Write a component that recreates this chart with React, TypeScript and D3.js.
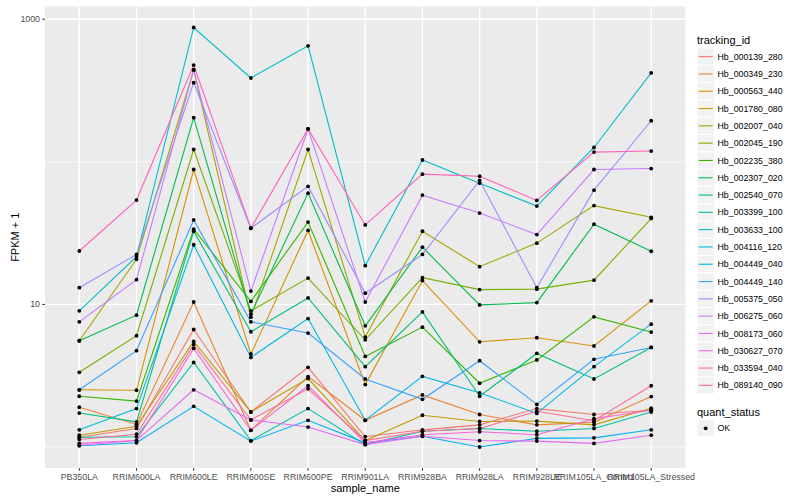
import React from 'react';
import * as d3 from 'd3';

// sample order along the x axis
const samples = [
  'PB350LA', 'RRIM600LA', 'RRIM600LE', 'RRIM600SE', 'RRIM600PE', 'RRIM901LA',
  'RRIM928BA', 'RRIM928LA', 'RRIM928LE', 'RRIM105LA_Control', 'RRIM105LA_Stressed',
];

const trackingIds = [
  'Hb_000139_280', 'Hb_000349_230', 'Hb_000563_440', 'Hb_001780_080', 'Hb_002007_040',
  'Hb_002045_190', 'Hb_002235_380', 'Hb_002307_020', 'Hb_002540_070', 'Hb_003399_100',
  'Hb_003633_100', 'Hb_004116_120', 'Hb_004449_040', 'Hb_004449_140', 'Hb_005375_050',
  'Hb_006275_060', 'Hb_008173_060', 'Hb_030627_070', 'Hb_033594_040', 'Hb_089140_090',
];

// ggplot default hue palette for 20 groups
const hueColors = [
  '#F8766D', '#EA8331', '#D89000', '#C09B00', '#A3A500', '#7CAE00', '#39B600', '#00BB4E',
  '#00BF7D', '#00C1A3', '#00BFC4', '#00BAE0', '#00B0F6', '#35A2FF', '#9590FF', '#C77CFF',
  '#E76BF3', '#FA62DB', '#FF62BC', '#FF6C91',
];

// FPKM + 1, one value per sample
const hb000139_280 = [1.17, 1.35, 6.67, 1.76, 3.62, 1.18, 1.32, 1.43, 1.86, 1.69, 1.81];
const hb000349_230 = [1.9, 1.44, 10.4, 1.31, 3.12, 1.54, 2.32, 1.69, 1.43, 1.49, 2.26];
const hb000563_440 = [2.52, 2.5, 88.3, 4.49, 33.0, 2.74, 14.7, 5.47, 5.84, 5.11, 10.6];
const hb001780_080 = [1.21, 1.4, 5.5, 1.76, 3.02, 1.11, 1.67, 1.51, 1.52, 1.43, 1.87];
const hb002007_040 = [5.56, 20.7, 441, 8.14, 122, 5.9, 32.6, 18.4, 26.9, 49.3, 40.8];
const hb002045_190 = [3.34, 6.03, 122, 9.01, 15.3, 5.65, 15.4, 12.7, 12.8, 14.8, 40.0];
const hb002235_380 = [2.27, 2.1, 33.7, 10.5, 37.8, 4.32, 6.93, 2.8, 4.08, 8.18, 6.4];
const hb002307_020 = [5.56, 8.41, 204, 8.54, 60.3, 7.08, 25.2, 9.92, 10.3, 36.5, 23.6];
const hb002540_070 = [1.73, 1.5, 32.6, 6.43, 11.1, 3.66, 8.86, 2.27, 4.53, 3.0, 4.99];
const hb003399_100 = [1.17, 1.18, 3.92, 1.11, 1.86, 1.04, 1.29, 1.35, 1.29, 1.35, 1.76];
const hb003633_100 = [9.01, 21.6, 875, 387, 651, 18.7, 103, 70.8, 48.9, 126, 420];
const hb004116_120 = [1.32, 1.86, 26.2, 4.25, 7.96, 1.54, 3.13, 2.4, 1.72, 3.66, 7.27];
const hb004449_040 = [1.02, 1.07, 1.93, 1.1, 1.54, 1.07, 1.19, 1.0, 1.15, 1.16, 1.32];
const hb004449_140 = [2.52, 4.74, 39.1, 7.55, 6.3, 3.0, 2.16, 4.03, 1.99, 4.12, 4.99];
const hb005375_050 = [13.1, 22.4, 359, 34.2, 67.2, 12.0, 22.4, 74.0, 13.1, 63.3, 194];
const hb006275_060 = [7.55, 14.9, 441, 12.4, 170, 10.4, 58.4, 43.7, 30.9, 88.3, 89.7];
const hb008173_060 = [1.03, 1.11, 2.52, 1.55, 1.38, 1.04, 1.19, 1.11, 1.1, 1.06, 1.21];
const hb030627_070 = [1.06, 1.11, 4.91, 1.31, 2.69, 1.07, 1.22, 1.28, 1.22, 1.58, 1.81];
const hb033594_040 = [23.7, 53.9, 477, 34.2, 170, 36.1, 81.9, 79.3, 53.6, 117, 119];
const hb089140_090 = [1.13, 1.23, 5.22, 1.55, 2.56, 1.11, 1.29, 1.35, 1.78, 1.53, 2.69];

const seriesValues = [
  hb000139_280, hb000349_230, hb000563_440, hb001780_080, hb002007_040,
  hb002045_190, hb002235_380, hb002307_020, hb002540_070, hb003399_100,
  hb003633_100, hb004116_120, hb004449_040, hb004449_140, hb005375_050,
  hb006275_060, hb008173_060, hb030627_070, hb033594_040, hb089140_090,
];

const yTicks = [10, 1000];
const yMinor = [1, 100];

const W = 800;
const H = 500;
const panel = { left: 45, right: 685.5, top: 6.5, bottom: 468 };
const FONT = '"Liberation Sans", Arial, Helvetica, sans-serif';

function App() {
  const x = d3.scalePoint<string>().domain(samples).range([panel.left, panel.right]).padding(0.6);

  const all = seriesValues.flat();
  const lo = Math.log10(d3.min(all) as number);
  const hi = Math.log10(d3.max(all) as number);
  const pad = (hi - lo) * 0.05;
  const y = d3.scaleLog()
    .domain([Math.pow(10, lo - pad), Math.pow(10, hi + pad)])
    .range([panel.bottom, panel.top]);

  const line = d3.line<number>()
    .x((_, i) => x(samples[i]) as number)
    .y((d) => y(d));

  const legendX = 697;
  const keyTop = 48;
  const keyStep = 17.3;

  return (
    <svg width={W} height={H} style={{ display: 'block', position: 'absolute', left: 0, top: 0 }}
      fontFamily={FONT}>
      <rect x={0} y={0} width={W} height={H} fill="#ffffff" />
      <rect x={panel.left} y={panel.top} width={panel.right - panel.left}
        height={panel.bottom - panel.top} fill="#EBEBEB" />
      {yMinor.map((t) => (
        <line key={'mn' + t} x1={panel.left} x2={panel.right} y1={y(t)} y2={y(t)}
          stroke="#fff" strokeWidth={0.7} />
      ))}
      {yTicks.map((t) => (
        <line key={'mj' + t} x1={panel.left} x2={panel.right} y1={y(t)} y2={y(t)}
          stroke="#fff" strokeWidth={1.4} />
      ))}
      {samples.map((s) => (
        <line key={'vx' + s} x1={x(s)} x2={x(s)} y1={panel.top} y2={panel.bottom}
          stroke="#fff" strokeWidth={1.4} />
      ))}

      {seriesValues.map((vals, i) => (
        <path key={'l' + i} d={line(vals) as string} fill="none" stroke={hueColors[i]}
          strokeWidth={1.1} />
      ))}
      {seriesValues.map((vals, i) =>
        vals.map((v, j) => (
          <circle key={'p' + i + '-' + j} cx={x(samples[j])} cy={y(v)} r={1.9} fill="#000" />
        ))
      )}

      {/* y axis */}
      {yTicks.map((t) => (
        <g key={'yt' + t}>
          <line x1={panel.left - 2.75} x2={panel.left} y1={y(t)} y2={y(t)} stroke="#333" strokeWidth={1} />
          <text x={panel.left - 5} y={y(t)} dy="0.35em" textAnchor="end" fontSize={8.8} fill="#4D4D4D">
            {t}
          </text>
        </g>
      ))}
      <text transform={`translate(15,${(panel.top + panel.bottom) / 2}) rotate(-90)`} textAnchor="middle"
        fontSize={11} fill="#000" dy="0.35em">
        FPKM + 1
      </text>

      {/* x axis */}
      {samples.map((s) => (
        <g key={'xt' + s}>
          <line x1={x(s)} x2={x(s)} y1={panel.bottom} y2={panel.bottom + 2.75} stroke="#333" strokeWidth={1} />
          <text x={x(s)} y={panel.bottom + 11.5} textAnchor="middle" fontSize={8.8} fill="#4D4D4D">
            {s}
          </text>
        </g>
      ))}
      <text x={(panel.left + panel.right) / 2} y={492} textAnchor="middle" fontSize={11} fill="#000">
        sample_name
      </text>

      {/* legend: tracking_id */}
      <text x={legendX} y={44} fontSize={11} fill="#000">tracking_id</text>
      {trackingIds.map((id, i) => {
        const cy = keyTop + i * keyStep + keyStep / 2;
        return (
          <g key={'lg' + id}>
            <rect x={legendX} y={cy - keyStep / 2} width={17.3} height={keyStep} fill="#F2F2F2"
              stroke="#fff" strokeWidth={1} />
            <line x1={legendX + 1.7} x2={legendX + 15.6} y1={cy} y2={cy} stroke={hueColors[i]} strokeWidth={1.1} />
            <text x={legendX + 20.5} y={cy} dy="0.35em" fontSize={8.8} fill="#000">{id}</text>
          </g>
        );
      })}

      {/* legend: quant_status */}
      <text x={legendX} y={415.5} fontSize={11} fill="#000">quant_status</text>
      <rect x={legendX} y={428.3 - keyStep / 2} width={17.3} height={keyStep} fill="#F2F2F2"
        stroke="#fff" strokeWidth={1} />
      <circle cx={legendX + 8.65} cy={428.3} r={1.9} fill="#000" />
      <text x={legendX + 20.5} y={428.3} dy="0.35em" fontSize={8.8} fill="#000">OK</text>
    </svg>
  );
}

export default App;
